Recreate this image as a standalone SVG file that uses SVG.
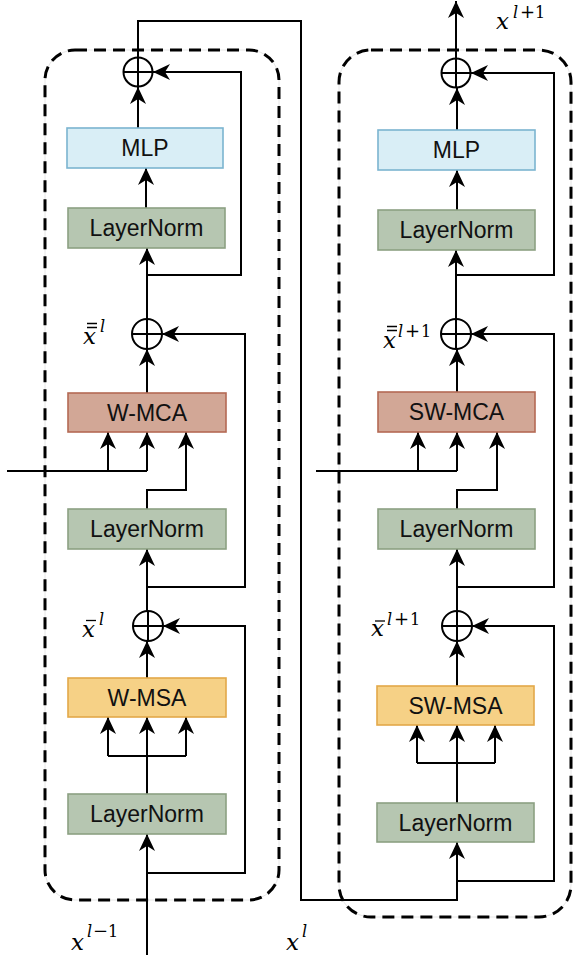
<svg xmlns="http://www.w3.org/2000/svg" width="573" height="955" viewBox="0 0 573 955">
<style>
.frame{fill:none;stroke:#000;stroke-width:3;stroke-dasharray:12 7}
.frameg{fill:none;stroke:#e6e6e6;stroke-width:1}
.box{stroke-width:1.6}
.mlp{fill:#d9eef6;stroke:#7bb4d0}
.ln{fill:#b6c6b1;stroke:#8ca083}
.mca{fill:#d2a796;stroke:#b46a54}
.msa{fill:#f6d186;stroke:#e3a849}
.lbl{font-family:"Liberation Sans",Arial,sans-serif;font-size:23px;fill:#111;text-anchor:middle}
.c{fill:none;stroke:#000;stroke-width:2}
.w{fill:none;stroke:#000;stroke-width:2}
.a{fill:none;stroke:#000;stroke-width:2;marker-end:url(#arr)}
.m{font-family:"DejaVu Serif","Liberation Serif",serif;font-style:italic;font-size:23px;fill:#000}
.s{font-family:"DejaVu Serif","Liberation Serif",serif;font-size:16px;fill:#000}
.si{font-style:italic}
.pl{font-size:18px}
.bar{stroke:#000;stroke-width:1.3}
</style>
<defs>
<marker id="arr" markerUnits="userSpaceOnUse" markerWidth="20" markerHeight="18" refX="17" refY="8" orient="auto">
<path d="M0,0 L17,8 L0,16 L5,8 Z" fill="#000"/>
</marker>
</defs>
<rect width="573" height="955" fill="#fff"/>

<g id="frames">
<rect class="frameg" x="45" y="50" width="234" height="850" rx="30"/>
<rect class="frame" x="45" y="50" width="234" height="850" rx="30"/>
<rect class="frameg" x="339" y="50" width="232" height="867" rx="32"/>
<rect class="frame" x="339" y="50" width="232" height="867" rx="32"/>
</g>

<g id="connectors">
<!-- left block -->
<path class="a" d="M147,955 V834"/>
<path class="a" d="M147,873 H245 V626 H163"/>
<path class="a" d="M147,794 V717"/>
<path class="w" d="M108,756 H186"/>
<path class="a" d="M108,756 V717"/>
<path class="a" d="M186,756 V717"/>
<path class="a" d="M147,678 V641"/>
<path class="a" d="M147,611 V549"/>
<path class="a" d="M147,587 H245 V334 H162"/>
<path class="a" d="M147,509 V490 H186 V432"/>
<path class="w" d="M7,471 H147"/>
<path class="a" d="M108,471 V432"/>
<path class="a" d="M147,471 V432"/>
<path class="a" d="M147,393 V349"/>
<path class="a" d="M147,319 V248"/>
<path class="a" d="M147,275 H241 V72 H153"/>
<path class="a" d="M146,208 V168"/>
<path class="a" d="M138,128 V87"/>
<path class="a" d="M138,57.5 V21 H301 V900 H457 V842"/>
<!-- right block -->
<path class="a" d="M457,881 H554 V626 H472"/>
<path class="a" d="M457,803 V725"/>
<path class="w" d="M417,763 H495"/>
<path class="a" d="M417,763 V725"/>
<path class="a" d="M495,763 V725"/>
<path class="a" d="M457,686 V641"/>
<path class="a" d="M457,611 V549"/>
<path class="a" d="M457,587 H554 V334 H471"/>
<path class="a" d="M457,509 V490 H497 V432"/>
<path class="w" d="M316,471 H457"/>
<path class="a" d="M418,471 V432"/>
<path class="a" d="M457,471 V432"/>
<path class="a" d="M457,392 V349"/>
<path class="a" d="M456,319 V250"/>
<path class="a" d="M457,275 H554 V73 H471"/>
<path class="a" d="M457,210 V170"/>
<path class="a" d="M457,130 V88"/>
<path class="a" d="M456,58 V1"/>
</g>

<g id="add-l3"><circle class="c" cx="138" cy="72" r="14.5"/><path class="w" d="M123.5,72 H152.5 M138,57.5 V86.5"/></g>
<g id="add-l2"><circle class="c" cx="147" cy="334" r="15"/><path class="w" d="M132,334 H162 M147,319 V349"/></g>
<g id="add-l1"><circle class="c" cx="148" cy="626" r="15"/><path class="w" d="M133,626 H163 M148,611 V641"/></g>
<g id="add-r3"><circle class="c" cx="456" cy="73" r="14.5"/><path class="w" d="M441.5,73 H470.5 M456,58.5 V87.5"/></g>
<g id="add-r2"><circle class="c" cx="456" cy="334" r="15"/><path class="w" d="M441,334 H471 M456,319 V349"/></g>
<g id="add-r1"><circle class="c" cx="457" cy="626" r="15"/><path class="w" d="M442,626 H472 M457,611 V641"/></g>

<g id="mlp-l"><rect class="box mlp" x="67" y="128" width="156" height="40"/><text class="lbl" x="145" y="156">MLP</text></g>
<g id="ln3-l"><rect class="box ln" x="68" y="208" width="157" height="40"/><text class="lbl" x="146.5" y="236">LayerNorm</text></g>
<g id="wmca"><rect class="box mca" x="68" y="393" width="158" height="39"/><text class="lbl" x="147" y="420.5">W-MCA</text></g>
<g id="ln2-l"><rect class="box ln" x="68" y="509" width="158" height="40"/><text class="lbl" x="147" y="537">LayerNorm</text></g>
<g id="wmsa"><rect class="box msa" x="68" y="678" width="158" height="39"/><text class="lbl" x="147" y="705.5">W-MSA</text></g>
<g id="ln1-l"><rect class="box ln" x="68" y="794" width="158" height="40"/><text class="lbl" x="147" y="822">LayerNorm</text></g>

<g id="mlp-r"><rect class="box mlp" x="378" y="130" width="157" height="40"/><text class="lbl" x="456.5" y="158">MLP</text></g>
<g id="ln3-r"><rect class="box ln" x="378" y="210" width="157" height="40"/><text class="lbl" x="456.5" y="238">LayerNorm</text></g>
<g id="swmca"><rect class="box mca" x="378" y="392" width="157" height="40"/><text class="lbl" x="456.5" y="420">SW-MCA</text></g>
<g id="ln2-r"><rect class="box ln" x="378" y="509" width="157" height="40"/><text class="lbl" x="456.5" y="537">LayerNorm</text></g>
<g id="swmsa"><rect class="box msa" x="377" y="686" width="157" height="39"/><text class="lbl" x="455.5" y="713.5">SW-MSA</text></g>
<g id="ln1-r"><rect class="box ln" x="377" y="803" width="157" height="39"/><text class="lbl" x="455.5" y="830.5">LayerNorm</text></g>

<g id="labels">
<text class="m" x="83" y="344">x</text>
<path class="bar" d="M87,323.5 H97 M87,327.5 H97"/>
<text class="s si" x="100" y="332">l</text>

<text class="m" x="82" y="637">x</text>
<path class="bar" d="M86,620.5 H96"/>
<text class="s si" x="99" y="625">l</text>

<text class="m" x="383" y="348">x</text>
<path class="bar" d="M387,326.5 H397 M387,330.5 H397"/>
<text class="s" y="337"><tspan class="si" x="398">l</tspan><tspan class="pl" x="405">+</tspan><tspan x="421">1</tspan></text>

<text class="m" x="371" y="636">x</text>
<path class="bar" d="M375,621 H385"/>
<text class="s" y="625"><tspan class="si" x="387">l</tspan><tspan class="pl" x="394">+</tspan><tspan x="410">1</tspan></text>

<text class="m" x="496" y="29">x</text>
<text class="s" y="17.5"><tspan class="si" x="513">l</tspan><tspan class="pl" x="520">+</tspan><tspan x="535">1</tspan></text>

<text class="m" x="71" y="950">x</text>
<text class="s" y="937"><tspan class="si" x="87">l</tspan><tspan class="pl" x="93">−</tspan><tspan x="108">1</tspan></text>

<text class="m" x="286" y="950">x</text>
<text class="s si" x="302" y="937">l</text>
</g>
</svg>
